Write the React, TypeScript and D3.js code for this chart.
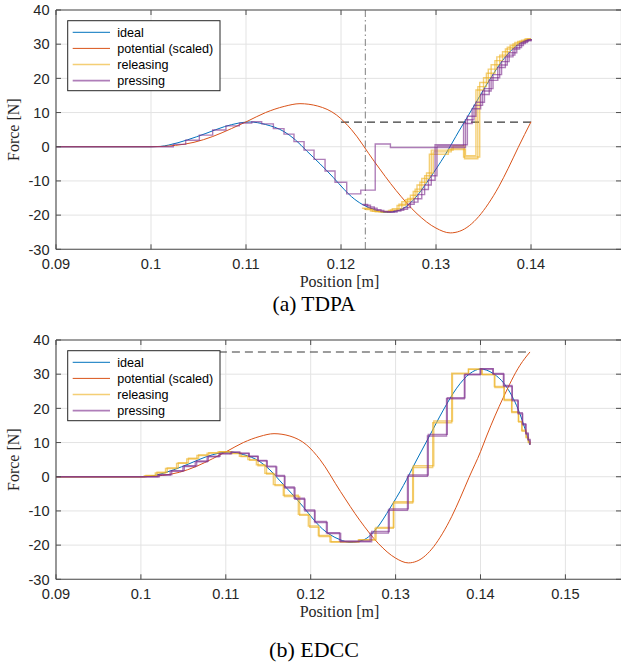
import React from "react";
import * as d3 from "d3";

type Pt = [number, number];

// ---------- shared data ----------
const yTicks = [-30, -20, -10, 0, 10, 20, 30, 40];
const xTicksTDPA = [0.09, 0.1, 0.11, 0.12, 0.13, 0.14];
const xTicksEDCC = [0.09, 0.1, 0.11, 0.12, 0.13, 0.14, 0.15];
const legendLabels = ["ideal", "potential (scaled)", "releasing", "pressing"];
const captions = ["(a) TDPA", "(b) EDCC"];

// ideal force-position curve
const idealPts: Pt[] = [
  [0.09, 0], [0.1, 0], [0.101, 0.1], [0.10186, 0.5], [0.10382, 2.0], [0.10578, 3.9],
  [0.10775, 5.9], [0.1092, 6.9], [0.1104, 7.25], [0.11206, 6.5], [0.11402, 4.4],
  [0.1152, 2.0], [0.11638, -1.2], [0.11779, -5.0], [0.11919, -9.0], [0.1203, -12.4],
  [0.1211, -14.6], [0.12226, -16.9], [0.12345, -18.4], [0.12463, -19.2], [0.1262, -18.5],
  [0.12777, -15.1], [0.12934, -9.2], [0.13091, -2.6], [0.13248, 4.9], [0.13405, 12.2],
  [0.13562, 19.5], [0.13719, 25.9], [0.13876, 30.2], [0.14, 31.5], [0.14149, 30.2],
  [0.14306, 26.3], [0.14463, 18.5], [0.14581, 9.3],
];

// potential (scaled)
const potentialPts: Pt[] = [
  [0.09, 0], [0.1, 0], [0.1013, 0.1], [0.10257, 0.4], [0.10453, 1.3], [0.1065, 3.0],
  [0.10846, 5.3], [0.1101, 7.4], [0.11206, 10.0], [0.11402, 11.8], [0.11568, 12.6],
  [0.11755, 11.9], [0.11952, 9.3], [0.1211, 5.0], [0.1235, -4.3], [0.1258, -12.8],
  [0.128, -19.6], [0.13, -23.8], [0.1315, -25.2], [0.1325, -24.7], [0.1335, -23.1],
  [0.1345, -20.4], [0.1355, -16.7], [0.1366, -11.7], [0.1376, -6.3], [0.13865, -0.2],
  [0.14, 7.3], [0.14072, 11.9], [0.14269, 23.2], [0.14465, 32.6], [0.14583, 36.5],
];

// ---------- TDPA (a) ----------
const tdpaDash = { x0: 0.12, x1: 0.14, level: 7.2 };
const tdpaMarkerX = 0.12256;

const tdpaPress1: Pt[] = [
  [0.09, 0], [0.10235, 0.7], [0.10365, 1.9], [0.10509, 3.4], [0.10649, 4.9], [0.10789, 6.1],
  [0.1093, 6.9], [0.1106, 7.3], [0.11165, 6.7], [0.11288, 5.3], [0.114, 3.7], [0.11505, 1.5],
  [0.11611, -1.0], [0.11716, -3.7], [0.11832, -7.1], [0.11937, -10.4], [0.1206, -13.8],
  [0.12208, -12.7], [0.1236, 0.8], [0.1252, -0.2], [0.1331, 7.9], [0.134, 12.1], [0.1349, 16.3],
  [0.1358, 20.2], [0.1367, 23.9], [0.1375, 26.8], [0.1383, 29.0], [0.139, 30.5], [0.1396, 31.2],
  [0.14, 31.5],
];
const tdpaPress2: Pt[] = [
  [0.1222, -16.9], [0.1228, -17.6], [0.1235, -18.4], [0.1242, -18.9], [0.1249, -19.1],
  [0.1256, -18.8], [0.1263, -18.3], [0.127, -16.8], [0.1277, -15.2], [0.1285, -12.5],
  [0.1292, -9.8], [0.1299, 0.6], [0.1333, 8.9], [0.1342, 13.0], [0.1351, 17.0], [0.136, 21.1],
  [0.1369, 24.9], [0.1377, 27.5], [0.1385, 29.6], [0.1392, 30.8], [0.1397, 31.3], [0.14, 31.5],
];
const tdpaPress3: Pt[] = [
  [0.1224, -17.1], [0.1231, -18.0], [0.1238, -18.6], [0.1245, -19.0], [0.1252, -19.1],
  [0.1259, -18.6], [0.1266, -17.8], [0.1273, -16.2], [0.1281, -14.0], [0.1288, -11.2],
  [0.1295, -8.5], [0.1301, 0.2], [0.1329, 6.8], [0.1338, 11.1], [0.1347, 15.3], [0.1356, 19.4],
  [0.1365, 23.2], [0.1373, 26.3], [0.1381, 28.6], [0.1388, 30.2], [0.1394, 31.0], [0.14, 31.5],
];
const tdpaRelease1: Pt[] = [
  [0.1222, -18.0], [0.1231, -18.8], [0.124, -19.0], [0.125, -18.6], [0.1259, -17.2],
  [0.1268, -15.5], [0.1276, -13.1], [0.1283, -10.4], [0.129, -7.7], [0.1297, -1.5],
  [0.1316, -0.4], [0.1329, -3.0], [0.1346, 18.8], [0.1355, 22.7], [0.1364, 26.3],
  [0.1373, 28.6], [0.1381, 30.1], [0.1388, 30.9], [0.1394, 31.5], [0.14, 31.5],
];
const tdpaRelease2: Pt[] = [
  [0.1224, -18.2], [0.1233, -18.9], [0.1243, -19.0], [0.1252, -18.5], [0.1261, -16.8],
  [0.127, -15.1], [0.1278, -12.4], [0.1285, -9.3], [0.1293, -2.2], [0.1313, -0.8],
  [0.1331, -2.6], [0.1342, 16.6], [0.135, 20.2], [0.1358, 24.0], [0.1367, 26.8],
  [0.1375, 29.1], [0.1383, 30.5], [0.139, 31.2], [0.1396, 31.5], [0.14, 31.5],
];
const tdpaRelease3: Pt[] = [
  [0.1226, -18.4], [0.1236, -19.0], [0.1245, -18.9], [0.1254, -18.1], [0.1264, -16.1],
  [0.1273, -14.2], [0.128, -11.2], [0.1288, -8.5], [0.1295, -1.0], [0.1318, 0.3],
  [0.133, -3.5], [0.1344, 17.6], [0.1353, 21.5], [0.1362, 25.2], [0.137, 27.8],
  [0.1378, 29.7], [0.1386, 30.8], [0.1393, 31.4], [0.14, 31.5],
];

// ---------- EDCC (b) ----------
const edccDash = { x0: 0.1, x1: 0.1455, level: 36.5 };

const edccPressA: Pt[] = [
  [0.09, 0], [0.10217, 0.6], [0.10363, 1.8], [0.10511, 3.2], [0.10657, 4.6], [0.10794, 6.0],
  [0.10932, 6.8], [0.11069, 7.2], [0.11167, 6.8], [0.11277, 5.9], [0.11383, 4.6],
  [0.11489, 2.9], [0.116, 0.1], [0.11697, -3.3], [0.11815, -6.6], [0.11933, -10.0],
  [0.12051, -13.4], [0.12196, -16.6], [0.12353, -19.0], [0.12718, -16.0], [0.12926, -9.4],
  [0.1315, 0.5], [0.13385, 12.4], [0.13609, 23.1], [0.13817, 30.0], [0.14002, 31.6],
  [0.14151, 30.0], [0.14277, 26.4], [0.14375, 22.2], [0.14445, 18.4], [0.14497, 15.2],
  [0.14536, 12.5], [0.14563, 10.7], [0.14583, 9.3],
];
const edccPressB: Pt[] = [
  [0.09, 0], [0.102, 0.5], [0.10345, 1.6], [0.10495, 3.0], [0.1064, 4.4], [0.1078, 5.8],
  [0.1092, 6.7], [0.1106, 7.2], [0.1116, 6.9], [0.1127, 6.0], [0.11375, 4.8], [0.1148, 3.1],
  [0.1159, 0.4], [0.1169, -3.0], [0.11805, -6.3], [0.11925, -9.7], [0.12045, -13.1],
  [0.12185, -16.4], [0.1234, -18.8], [0.127, -16.5], [0.12915, -9.8], [0.1314, 0.1],
  [0.13375, 11.9], [0.136, 22.8], [0.1381, 29.8], [0.13995, 31.5], [0.14145, 30.2],
  [0.1427, 26.7], [0.1437, 22.5], [0.1444, 18.7], [0.14492, 15.5], [0.14532, 12.8],
  [0.1456, 10.9], [0.14583, 9.4],
];
const edccReleaseA: Pt[] = [
  [0.09, 0], [0.1004, 0.3], [0.1017, 1.1], [0.1029, 2.4], [0.1042, 3.9], [0.1054, 5.2],
  [0.1066, 6.2], [0.1078, 6.9], [0.1091, 7.3], [0.1105, 6.8], [0.1116, 6.0], [0.1126, 5.0],
  [0.1136, 3.5], [0.1146, 1.0], [0.1156, -2.3], [0.11677, -5.4], [0.11854, -11.0],
  [0.11972, -14.4], [0.1209, -17.2], [0.12227, -19.0], [0.12561, -18.5], [0.12757, -15.1],
  [0.12973, -7.7], [0.13201, 2.7], [0.13437, 15.8], [0.13661, 30.3], [0.13857, 31.5],
  [0.14014, 30.0], [0.14163, 26.4], [0.14277, 22.6], [0.14367, 19.0], [0.14445, 16.2],
  [0.14485, 13.6], [0.14536, 11.6], [0.14563, 10.2], [0.14583, 9.5],
];
const edccReleaseB: Pt[] = [
  [0.09, 0], [0.1006, 0.4], [0.1019, 1.3], [0.1031, 2.6], [0.1044, 4.1], [0.1056, 5.4],
  [0.1068, 6.4], [0.108, 7.0], [0.1093, 7.3], [0.1107, 6.9], [0.1118, 5.9], [0.1128, 4.8],
  [0.1138, 3.2], [0.1148, 0.8], [0.1158, -2.6], [0.1169, -5.8], [0.1187, -11.3],
  [0.1199, -14.8], [0.121, -17.5], [0.1224, -19.1], [0.1257, -18.4], [0.1277, -14.8],
  [0.1298, -7.3], [0.1321, 3.2], [0.1345, 16.3], [0.1367, 30.1], [0.1386, 31.4],
  [0.1402, 29.8], [0.1417, 26.1], [0.1428, 22.3], [0.1437, 18.8], [0.1445, 16.0],
  [0.1449, 13.3], [0.1454, 11.4], [0.14565, 10.0], [0.14583, 9.4],
];

// ---------- style ----------
const C_IDEAL = "#0072BD";
const C_POT = "#D95319";
const C_REL = "#EDB120";
const C_PRESS = "#7E2F8E";
const SANS = "'Liberation Sans', Arial, Helvetica, sans-serif";
const SERIF = "'Liberation Serif', 'Times New Roman', serif";

type PanelProps = {
  id: string;
  top: number;
  bottom: number;
  xMax: number;
  xTicks: number[];
  xLimitData: number;
  releasing: Pt[][];
  pressing: Pt[][];
  traceOpacity: number;
  dash: { x0: number; x1: number; level: number };
  markerX?: number;
  caption: string;
  captionY: number;
  captionSize: number;
  tickLabelY: number;
  xLabelY: number;
};

function Panel(p: PanelProps) {
  const left = 56;
  const right = 621;
  const x = d3.scaleLinear().domain([0.09, p.xMax]).range([left, right]);
  const y = d3.scaleLinear().domain([-30, 40]).range([p.bottom, p.top]);
  const smooth = d3
    .line<Pt>()
    .x((d) => x(d[0]))
    .y((d) => y(d[1]))
    .curve(d3.curveMonotoneX);
  const step = d3
    .line<Pt>()
    .x((d) => x(d[0]))
    .y((d) => y(d[1]))
    .curve(d3.curveStepAfter);
  const ideal = idealPts.filter((d) => d[0] <= p.xLimitData + 1e-9);
  const pot = potentialPts.filter((d) => d[0] <= p.xLimitData + 1e-9);
  const tick = 5;
  const frame = "#4d4d4d";
  const clipId = `clip-${p.id}`;
  const lgX = 67.7, lgY = p.top + 10.7, lgW = 152.3, lgH = 70;
  const rowY = [0, 1, 2, 3].map((i) => lgY + 11.6 + i * 16.1);
  const legendColors = [C_IDEAL, C_POT, C_REL, C_PRESS];
  const legendOp = [1, 1, p.traceOpacity, p.traceOpacity];
  const legendW = [1, 1, 1.6, 1.6];
  return (
    <g>
      <defs>
        <clipPath id={clipId}>
          <rect x={left} y={p.top} width={right - left} height={p.bottom - p.top} />
        </clipPath>
      </defs>
      {/* grid */}
      {p.xTicks.map((t) => (
        <line key={"gx" + t} x1={x(t)} x2={x(t)} y1={p.top} y2={p.bottom} stroke="#e3e3e3" strokeWidth={1} />
      ))}
      {yTicks.map((t) => (
        <line key={"gy" + t} x1={left} x2={right} y1={y(t)} y2={y(t)} stroke="#e3e3e3" strokeWidth={1} />
      ))}
      <g clipPath={`url(#${clipId})`}>
        {p.markerX !== undefined && (
          <line x1={x(p.markerX)} x2={x(p.markerX)} y1={p.top} y2={p.bottom} stroke="#8a8a8a" strokeWidth={1.1} strokeDasharray="7,3,1.5,3" />
        )}
        <line x1={x(p.dash.x0)} x2={x(p.dash.x1)} y1={y(p.dash.level)} y2={y(p.dash.level)} stroke="#3a3a3a" strokeWidth={1.1} strokeDasharray="8,5" />
        <path d={smooth(ideal) || ""} fill="none" stroke={C_IDEAL} strokeWidth={1} />
        <path d={smooth(pot) || ""} fill="none" stroke={C_POT} strokeWidth={1} />
        {p.releasing.map((tr, i) => (
          <path key={"r" + i} d={step(tr) || ""} fill="none" stroke={C_REL} strokeOpacity={p.traceOpacity} strokeWidth={1.4} />
        ))}
        {p.pressing.map((tr, i) => (
          <path key={"p" + i} d={step(tr) || ""} fill="none" stroke={C_PRESS} strokeOpacity={p.traceOpacity} strokeWidth={1.4} />
        ))}
      </g>
      {/* frame */}
      <line x1={left} x2={left} y1={p.top} y2={p.bottom} stroke={frame} strokeWidth={1.1} />
      <line x1={left} x2={right} y1={p.bottom} y2={p.bottom} stroke={frame} strokeWidth={1.1} />
      <line x1={left} x2={right} y1={p.top} y2={p.top} stroke={frame} strokeWidth={1.1} />
      <line x1={right + 0.5} x2={right + 0.5} y1={p.top} y2={p.bottom} stroke={frame} strokeWidth={1.1} />
      {p.xTicks.map((t) => (
        <g key={"tx" + t}>
          <line x1={x(t)} x2={x(t)} y1={p.bottom} y2={p.bottom - tick} stroke={frame} strokeWidth={1} />
          <line x1={x(t)} x2={x(t)} y1={p.top} y2={p.top + tick} stroke={frame} strokeWidth={1} />
          <text x={x(t)} y={p.tickLabelY} textAnchor="middle" fontFamily={SANS} fontSize={14.6} fill="#262626">
            {String(+t.toFixed(2))}
          </text>
        </g>
      ))}
      {yTicks.map((t) => (
        <g key={"ty" + t}>
          <line x1={left} x2={left + tick} y1={y(t)} y2={y(t)} stroke={frame} strokeWidth={1} />
          <line x1={right - tick} x2={right} y1={y(t)} y2={y(t)} stroke={frame} strokeWidth={1} />
          <text x={49.5} y={y(t) + 5.2} textAnchor="end" fontFamily={SANS} fontSize={14.6} fill="#262626">
            {String(t)}
          </text>
        </g>
      ))}
      {/* axis labels */}
      <text x={(left + right) / 2 + 1} y={p.xLabelY} textAnchor="middle" fontFamily={SERIF} fontSize={16} fill="#262626">
        Position [m]
      </text>
      <text transform={`translate(18.7,${(p.top + p.bottom) / 2}) rotate(-90)`} textAnchor="middle" fontFamily={SERIF} fontSize={16} fill="#262626">
        Force [N]
      </text>
      {/* legend */}
      <rect x={lgX} y={lgY} width={lgW} height={lgH} fill="#ffffff" stroke="#262626" strokeWidth={1} />
      {legendLabels.map((lab, i) => (
        <g key={lab}>
          <line x1={72.7} x2={110} y1={rowY[i]} y2={rowY[i]} stroke={legendColors[i]} strokeOpacity={legendOp[i]} strokeWidth={legendW[i]} />
          <text x={117.3} y={rowY[i] + 4.5} fontFamily={SANS} fontSize={12.6} fill="#000">
            {lab}
          </text>
        </g>
      ))}
      {/* caption */}
      <text x={314} y={p.captionY} textAnchor="middle" fontFamily={SERIF} fontSize={p.captionSize} fill="#000">
        {p.caption}
      </text>
    </g>
  );
}

export default function App() {
  return (
    <svg
      width={621}
      height={663}
      viewBox="0 0 621 663"
      style={{ position: "absolute", left: 0, top: 0, background: "#fff" }}
    >
      <rect x={0} y={0} width={621} height={663} fill="#fff" />
      <Panel
        id="tdpa"
        top={10}
        bottom={249.3}
        xMax={0.14947}
        xTicks={xTicksTDPA}
        xLimitData={0.14}
        releasing={[tdpaRelease1, tdpaRelease2, tdpaRelease3]}
        pressing={[tdpaPress1, tdpaPress2, tdpaPress3]}
        traceOpacity={0.62}
        dash={tdpaDash}
        markerX={tdpaMarkerX}
        caption={captions[0]}
        captionY={311}
        captionSize={21.5}
        tickLabelY={269.2}
        xLabelY={287}
      />
      <Panel
        id="edcc"
        top={340}
        bottom={579.3}
        xMax={0.15655}
        xTicks={xTicksEDCC}
        xLimitData={0.146}
        releasing={[edccReleaseA, edccReleaseB]}
        pressing={[edccPressA, edccPressB]}
        traceOpacity={0.62}
        dash={edccDash}
        caption={captions[1]}
        captionY={656.7}
        captionSize={22}
        tickLabelY={599}
        xLabelY={616.5}
      />
    </svg>
  );
}
